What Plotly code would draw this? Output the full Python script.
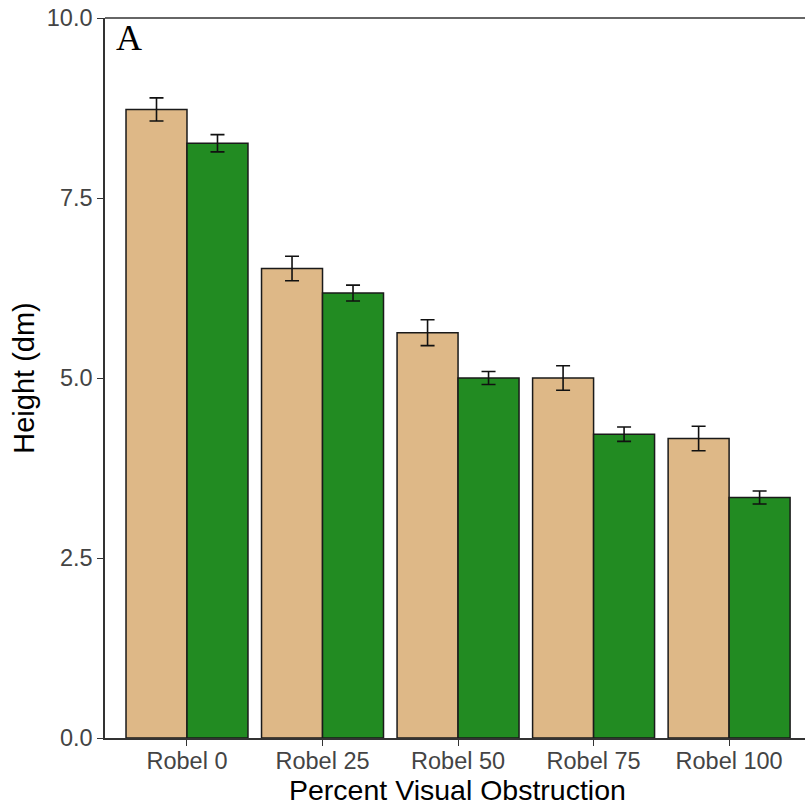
import plotly.graph_objects as go

# Mean plant height (dm) by Robel pole reading, two groups, with standard errors
categories = ["Robel 0", "Robel 25", "Robel 50", "Robel 75", "Robel 100"]
tan_means = [8.73, 6.52, 5.63, 5.00, 4.16]
tan_se = [0.16, 0.17, 0.18, 0.17, 0.17]
green_means = [8.26, 6.18, 5.00, 4.22, 3.34]
green_se = [0.12, 0.11, 0.09, 0.10, 0.09]
y_ticks = [0.0, 2.5, 5.0, 7.5, 10.0]
y_tick_labels = ["0.0", "2.5", "5.0", "7.5", "10.0"]

TAN = "#DEB887"
GREEN = "#228B22"
OUTLINE = "#1a1a1a"
AXIS = "#333333"
TICKTXT = "#444444"

fig = go.Figure()
for means, se, color in [(tan_means, tan_se, TAN), (green_means, green_se, GREEN)]:
    fig.add_trace(go.Bar(
        x=categories, y=means,
        marker=dict(color=color, line=dict(color=OUTLINE, width=1.5)),
        error_y=dict(type="data", array=se, visible=True, color="#111111",
                     thickness=1.6, width=7),
        showlegend=False,
    ))

fig.update_layout(
    width=805, height=808,
    margin=dict(l=105, r=0, t=18, b=70),
    paper_bgcolor="white", plot_bgcolor="white",
    barmode="group", bargap=0.1, bargroupgap=0.0,
    font=dict(family="Liberation Sans, Arial, sans-serif"),
)

fig.update_xaxes(
    range=[-0.605, 4.56],
    showline=True, linecolor=AXIS, linewidth=1.5,
    ticks="outside", ticklen=6, tickcolor=AXIS, tickwidth=1.3,
    tickfont=dict(size=23.5, color=TICKTXT),
    ticklabelstandoff=-5,
    showgrid=False, zeroline=False,
)
fig.update_yaxes(
    range=[0, 10],
    tickvals=y_ticks, ticktext=y_tick_labels,
    showline=True, linecolor=AXIS, linewidth=1.5,
    ticks="outside", ticklen=6, tickcolor=AXIS, tickwidth=1.3,
    tickfont=dict(size=23.5, color=TICKTXT),
    title=dict(text="Height (dm)", font=dict(size=29, color="black"), standoff=4),
    showgrid=False, zeroline=False,
)

# x-axis title, centred under the panel
fig.add_annotation(text="Percent Visual Obstruction", xref="paper", yref="paper",
                   x=0.5036, y=-0.0958, xanchor="center", yanchor="bottom",
                   showarrow=False, borderpad=0, font=dict(size=28.5, color="black"))

# top border line of the panel
fig.add_shape(type="line", xref="paper", yref="paper", x0=0, x1=1, y0=1, y1=1,
              line=dict(color=AXIS, width=1.5))

# panel letter
fig.add_annotation(text="A", xref="paper", yref="paper", x=0.013, y=0.972,
                   xanchor="left", yanchor="middle", showarrow=False,
                   font=dict(family="Liberation Serif, Times New Roman, serif", size=36, color="black"))

fig.write_html("out.html")
